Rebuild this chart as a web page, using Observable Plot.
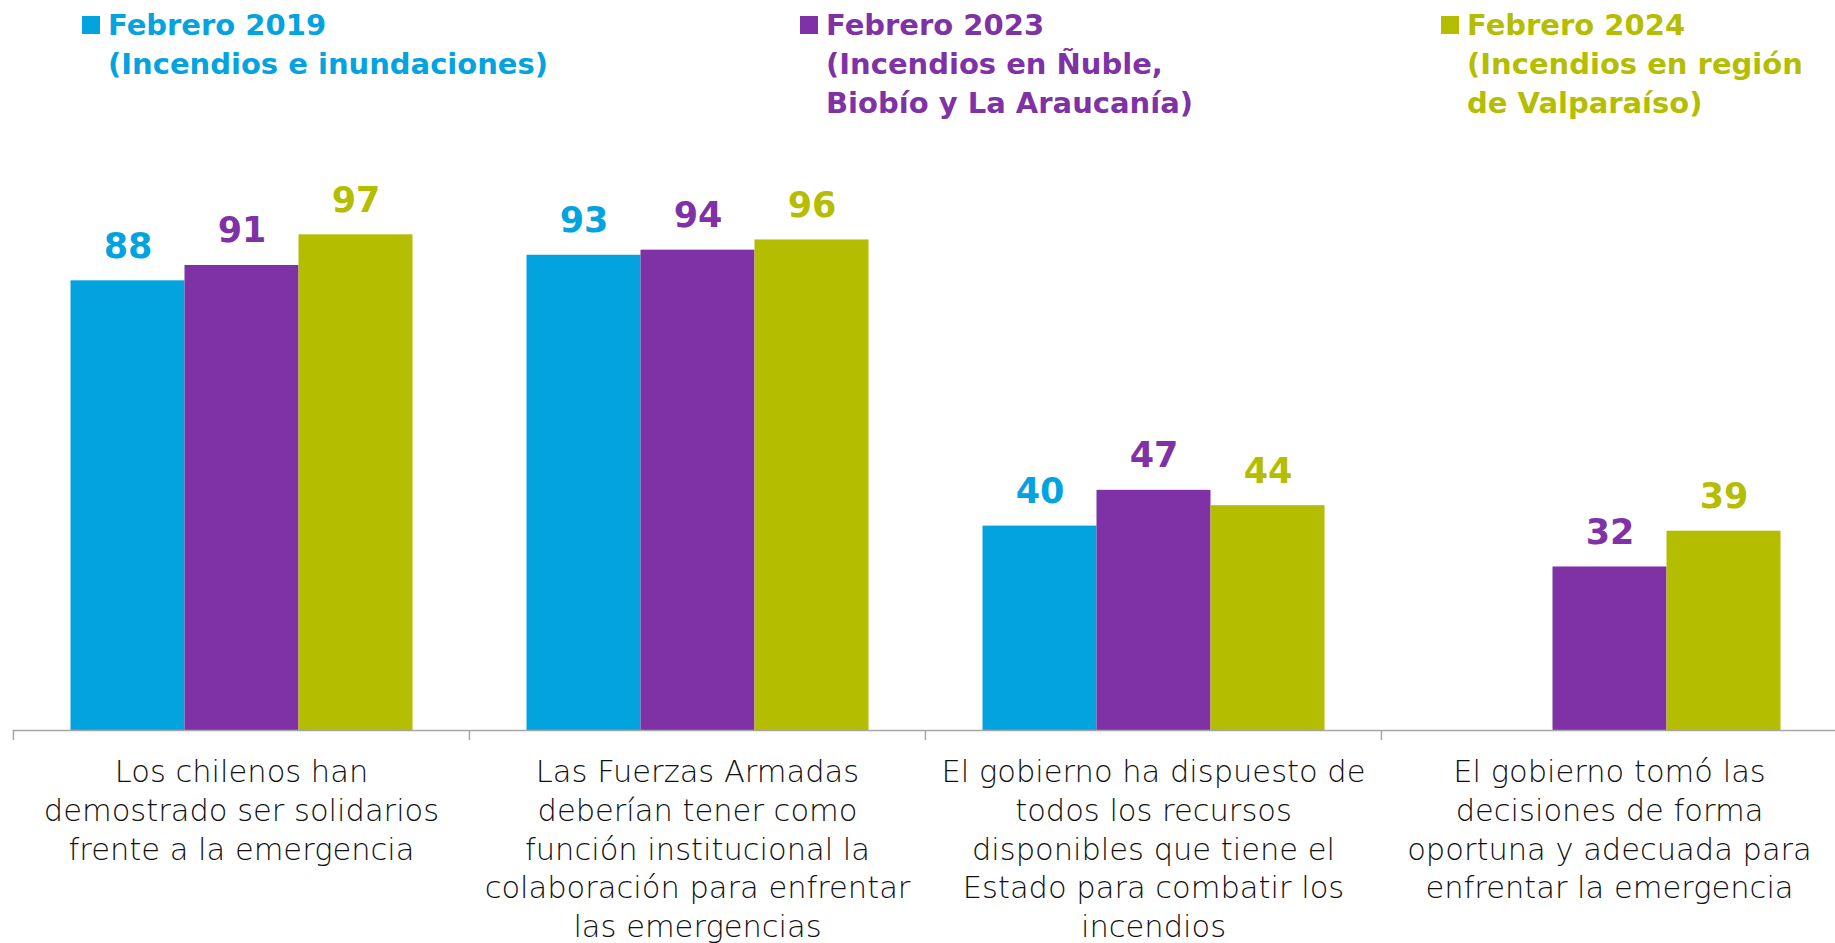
<!DOCTYPE html>
<html>
<head>
<meta charset="utf-8">
<script src="https://cdn.jsdelivr.net/npm/d3@7"></script>
<script src="https://cdn.jsdelivr.net/npm/@observablehq/plot@0.6"></script>
<style>
  html, body { margin: 0; padding: 0; background: #fff; }
  #wrap { position: relative; width: 1835px; height: 943px; overflow: hidden; }
  #chart { position: absolute; left: 0; top: 0; }
  .leg { position: absolute; top: 6px; font-family: "DejaVu Sans", sans-serif; font-weight: bold; font-size: 29px; line-height: 39px; white-space: pre; }
  .leg .sw { position: absolute; width: 18px; height: 18px; top: 10px; }
</style>
</head>
<body>
<div id="wrap">
  <div id="chart"></div>
</div>
<script>
const categories = [
  "Los chilenos han demostrado ser solidarios frente a la emergencia",
  "Las Fuerzas Armadas deberían tener como función institucional la colaboración para enfrentar las emergencias",
  "El gobierno ha dispuesto de todos los recursos disponibles que tiene el Estado para combatir los incendios",
  "El gobierno tomó las decisiones de forma oportuna y adecuada para enfrentar la emergencia"
];
const categoryLabels = [
  "Los chilenos han\ndemostrado ser solidarios\nfrente a la emergencia",
  "Las Fuerzas Armadas\ndeberían tener como\nfunción institucional la\ncolaboración para enfrentar\nlas emergencias",
  "El gobierno ha dispuesto de\ntodos los recursos\ndisponibles que tiene el\nEstado para combatir los\nincendios",
  "El gobierno tomó las\ndecisiones de forma\noportuna y adecuada para\nenfrentar la emergencia"
];
const series = ["Febrero 2019", "Febrero 2023", "Febrero 2024"];
const seriesNotes = ["(Incendios e inundaciones)", "(Incendios en Ñuble,\nBiobío y La Araucanía)", "(Incendios en región\nde Valparaíso)"];
const colors = ["#03A3E0", "#7F32A5", "#B5BD00"];
const values2019 = [88, 93, 40, null];
const values2023 = [91, 94, 47, 32];
const values2024 = [97, 96, 44, 39];

const seriesValues = [values2019, values2023, values2024];
const data = [];
categories.forEach((c, i) => {
  series.forEach((s, j) => {
    const v = seriesValues[j][i];
    if (v != null) data.push({category: c, series: s, value: v});
  });
});

const W = 1835, H = 943;
const mL = 12.5, mR = -2, mT = 219, mB = 213;
const bw = (W - mL - mR) / categories.length;

const valueFont = "'DejaVu Sans', sans-serif";
const labelFont = "'DejaVu Sans', sans-serif";

const plot = Plot.plot({
  width: W,
  height: H,
  marginLeft: mL,
  marginRight: mR,
  marginTop: mT,
  marginBottom: mB,
  fx: {domain: categories, padding: 0, axis: null},
  x: {domain: series, paddingInner: 0, paddingOuter: 0.5, axis: null},
  y: {domain: [0, 100], axis: null},
  color: {domain: series, range: colors},
  marks: [
    Plot.barY(data, {fx: "category", x: "series", y: "value", fill: "series", inset: 0}),
    Plot.ruleY([0], {stroke: "#a6a6a6", strokeWidth: 1.5}),
    Plot.axisFx({anchor: "bottom", label: null, tickSize: 10, tickFormat: () => "", dx: -bw / 2, stroke: "#a6a6a6", strokeWidth: 1.5}),
    Plot.text(data, {
      fx: "category", x: "series", y: "value", text: "value", fill: "series",
      lineAnchor: "bottom", dy: -23, fontSize: 35, fontWeight: "bold", fontFamily: valueFont
    }),
    Plot.text(categories, {
      fx: d => d, text: (d, i) => categoryLabels[i], frameAnchor: "bottom", lineAnchor: "top",
      dy: 24.5, fontSize: 30.5, lineHeight: 1.265, fontWeight: 300, fontFamily: labelFont, fill: "#111"
    })
  ]
});
document.getElementById("chart").appendChild(plot);

// Legend above the plot area
const legendLefts = [82, 800, 1441];
const wrap = document.getElementById("wrap");
series.forEach((s, i) => {
  const d = document.createElement("div");
  d.className = "leg";
  d.style.left = (legendLefts[i] + 26) + "px";
  d.style.color = colors[i];
  d.textContent = s + "\n" + seriesNotes[i];
  const sw = document.createElement("div");
  sw.className = "sw";
  sw.style.background = colors[i];
  sw.style.left = "-26px";
  d.appendChild(sw);
  wrap.appendChild(d);
});
</script>
</body>
</html>
